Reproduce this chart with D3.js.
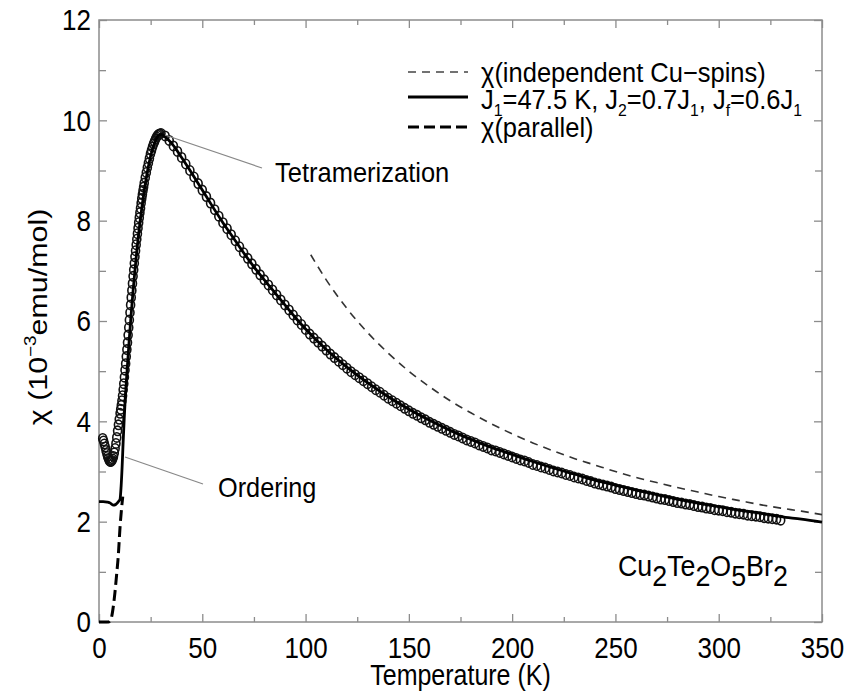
<!DOCTYPE html>
<html>
<head>
<meta charset="utf-8">
<script src="https://cdn.jsdelivr.net/npm/d3@7"></script>
<style>
  body { margin: 0; background: #fff; }
  svg { display: block; font-family: "Liberation Sans", Arial, Helvetica, sans-serif; }
</style>
</head>
<body>
<svg id="chart" width="847" height="693"></svg>
<script>
// Measured susceptibility (open symbols), T in K, chi in 10^-3 emu/mol
const measuredT = [
  1.8, 2.2, 2.6, 3.0, 3.4, 3.8, 4.2, 4.6, 5.0, 5.4, 5.8, 6.2, 6.6, 7.0, 7.4, 7.8, 8.2, 8.6, 9.0, 9.4, 9.8,
  10.2, 10.5, 10.8, 11.1, 11.4, 11.7, 12.0, 12.3, 12.6, 12.9, 13.2, 13.5, 13.8, 14.1, 14.4, 14.7, 15.0, 15.3,
  15.6, 15.9, 16.2, 16.5, 16.8, 17.1, 17.4, 17.7, 18.0, 18.3, 18.6, 18.9, 19.2, 19.5, 19.8, 20.1, 20.4, 20.7,
  21.0, 21.3, 21.6, 21.9,
  22.4, 22.9, 23.4, 23.9, 24.4, 24.9, 25.4, 25.9, 26.4, 26.9, 27.4, 27.9, 28.4, 28.9, 29.4, 30,
  32, 34, 36, 38, 40, 42, 44, 46, 48, 50, 52, 54, 56, 58, 60, 62, 64, 66, 68, 70,
  72, 74, 76, 78, 80, 82, 84, 86, 88, 90, 92, 94, 96, 98, 100, 102, 104, 106, 108, 110,
  112, 114, 116, 118, 120, 122, 124, 126, 128, 130, 132, 134, 136, 138, 140, 142, 144, 146, 148, 150,
  152, 154, 156, 158, 160, 162, 164, 166, 168, 170, 172, 174, 176, 178, 180, 182, 184, 186, 188, 190,
  192, 194, 196, 198, 200, 202, 204, 206, 208, 210, 212, 214, 216, 218, 220, 222, 224, 226, 228, 230,
  232, 234, 236, 238, 240, 242, 244, 246, 248, 250, 252, 254, 256, 258, 260, 262, 264, 266, 268, 270,
  272, 274, 276, 278, 280, 282, 284, 286, 288, 290, 292, 294, 296, 298, 300, 302, 304, 306, 308, 310,
  312, 314, 316, 318, 320, 322, 324, 326, 328, 330
];
const measuredChi = [
  3.66, 3.61, 3.55, 3.49, 3.42, 3.36, 3.30, 3.26, 3.22, 3.20, 3.20, 3.22, 3.25, 3.30, 3.37, 3.46, 3.56, 3.68, 3.81, 3.93, 4.04,
  4.16, 4.24, 4.32, 4.41, 4.51, 4.63, 4.75, 4.88, 5.02, 5.15, 5.29, 5.43, 5.57, 5.72, 5.87, 6.02, 6.17, 6.32,
  6.47, 6.61, 6.75, 6.89, 7.02, 7.15, 7.28, 7.40, 7.52, 7.63, 7.74, 7.85, 7.96, 8.06, 8.16, 8.25, 8.35, 8.44,
  8.52, 8.60, 8.67, 8.75,
  8.86, 8.96, 9.06, 9.15, 9.24, 9.33, 9.40, 9.47, 9.53, 9.58, 9.63, 9.67, 9.70, 9.72, 9.73, 9.74,
  9.69, 9.60, 9.49, 9.38, 9.26, 9.13, 9.00, 8.87, 8.74, 8.61, 8.48, 8.35, 8.22, 8.09, 7.96, 7.84, 7.72, 7.60, 7.48, 7.36,
  7.25, 7.14, 7.03, 6.92, 6.82, 6.72, 6.62, 6.52, 6.42, 6.32, 6.22, 6.12, 6.02, 5.93, 5.83, 5.74, 5.66, 5.58, 5.50, 5.42,
  5.34, 5.27, 5.20, 5.13, 5.06, 4.99, 4.93, 4.87, 4.81, 4.75, 4.69, 4.63, 4.58, 4.52, 4.46, 4.41, 4.36, 4.31, 4.26, 4.21,
  4.16, 4.12, 4.07, 4.03, 3.98, 3.94, 3.90, 3.86, 3.82, 3.78, 3.74, 3.71, 3.67, 3.63, 3.60, 3.57, 3.53, 3.50, 3.47, 3.43,
  3.41, 3.38, 3.35, 3.32, 3.29, 3.26, 3.23, 3.21, 3.18, 3.14, 3.12, 3.09, 3.07, 3.04, 3.01, 2.99, 2.97, 2.94, 2.92, 2.89,
  2.87, 2.85, 2.82, 2.80, 2.77, 2.75, 2.73, 2.71, 2.69, 2.66, 2.64, 2.62, 2.60, 2.58, 2.56, 2.54, 2.53, 2.51, 2.49, 2.47,
  2.45, 2.44, 2.42, 2.40, 2.38, 2.37, 2.35, 2.34, 2.32, 2.30, 2.29, 2.27, 2.26, 2.24, 2.23, 2.22, 2.20, 2.19, 2.17, 2.16,
  2.15, 2.13, 2.12, 2.11, 2.10, 2.08, 2.07, 2.06, 2.05, 2.03
];

// Model curve J1=47.5 K, J2=0.7J1, Jf=0.6J1
const fitT = [0, 2, 4, 5.5, 6.8, 8, 9, 9.8, 10.2, 10.7, 11.2, 11.7, 12.2, 12.7, 13.5, 14.5, 15.5, 16.5, 17.5, 18.5,
  20, 22, 24, 26, 28, 30, 32, 35, 40, 45, 50, 55, 60, 65, 70, 75, 80, 85, 90, 95, 100,
  110, 120, 130, 140, 150, 160, 170, 180, 190, 200, 210, 220, 230, 240, 250, 260, 270, 280, 290, 300,
  310, 320, 330, 340, 350];
const fitChi = [2.40, 2.40, 2.39, 2.37, 2.33, 2.34, 2.38, 2.42, 2.45, 2.70, 3.10, 3.60, 4.05, 4.45, 4.95, 5.55, 6.10, 6.60, 7.05, 7.47,
  8.02, 8.62, 9.10, 9.44, 9.65, 9.72, 9.67, 9.55, 9.26, 8.94, 8.61, 8.28, 7.96, 7.66, 7.36, 7.08, 6.82, 6.57, 6.32, 6.07, 5.84,
  5.43, 5.08, 4.77, 4.49, 4.24, 4.02, 3.82, 3.64, 3.48, 3.34, 3.20, 3.07, 2.95, 2.83, 2.73, 2.63, 2.54, 2.45, 2.37, 2.30,
  2.23, 2.17, 2.10, 2.05, 1.99];

// Independent Cu spins
const curieT = [102.5, 110, 120, 130, 140, 150, 160, 170, 180, 190, 200, 210, 220, 230, 240, 250,
  260, 270, 280, 290, 300, 310, 320, 330, 340, 350];
const curieChi = [7.32, 6.82, 6.25, 5.77, 5.36, 5.00, 4.69, 4.41, 4.17, 3.95, 3.75, 3.57, 3.41, 3.26, 3.13, 3.00,
  2.88, 2.78, 2.68, 2.59, 2.50, 2.42, 2.34, 2.27, 2.21, 2.14];

// Parallel susceptibility below ordering
const parallelT = [0, 4.5, 5.5, 6.1, 7.0, 7.7, 8.5, 9.3, 10.2, 11.0, 11.5];
const parallelChi = [0, 0, 0.03, 0.10, 0.33, 0.58, 0.93, 1.30, 1.90, 2.30, 2.50];

const xMajor = [0, 50, 100, 150, 200, 250, 300, 350];
const xMinor = [25, 75, 125, 175, 225, 275, 325];
const yMajor = [0, 2, 4, 6, 8, 10, 12];
const yMinor = [1, 3, 5, 7, 9, 11];

const svg = d3.select("#chart");
const X0 = 99, X1 = 822, Y0 = 622, Y1 = 20;
const x = d3.scaleLinear().domain([0, 350]).range([X0, X1]);
const y = d3.scaleLinear().domain([0, 12]).range([Y0, Y1]);
const axisColor = "#8c8c8c";
const FONT = '"Liberation Sans", Arial, Helvetica, sans-serif';
const TALL = 1.17;   // lettering is drawn slightly tall and narrow

function styleAxis(g) {
  g.select(".domain").remove();
  g.selectAll(".tick line").attr("stroke", axisColor).attr("stroke-width", 1.3);
  g.selectAll(".tick text").attr("fill", "#000").attr("font-size", 26).attr("font-family", FONT)
    .attr("transform", `scale(1,${TALL})`);
}

// axes with inward ticks on all four sides
svg.append("g").attr("transform", `translate(0,${Y0})`)
  .call(d3.axisBottom(x).tickValues(xMajor).tickSize(-8).tickPadding(12).tickFormat(d3.format("d"))).call(styleAxis);
svg.append("g").attr("transform", `translate(0,${Y0})`)
  .call(d3.axisBottom(x).tickValues(xMinor).tickSize(-5).tickFormat("")).call(styleAxis);
svg.append("g").attr("transform", `translate(0,${Y1})`)
  .call(d3.axisTop(x).tickValues(xMajor).tickSize(-8).tickFormat("")).call(styleAxis);
svg.append("g").attr("transform", `translate(0,${Y1})`)
  .call(d3.axisTop(x).tickValues(xMinor).tickSize(-5).tickFormat("")).call(styleAxis);
svg.append("g").attr("transform", `translate(${X0},0)`)
  .call(d3.axisLeft(y).tickValues(yMajor).tickSize(-8).tickPadding(8).tickFormat(d3.format("d"))).call(styleAxis);
svg.append("g").attr("transform", `translate(${X0},0)`)
  .call(d3.axisLeft(y).tickValues(yMinor).tickSize(-7).tickFormat("")).call(styleAxis);
svg.append("g").attr("transform", `translate(${X1},0)`)
  .call(d3.axisRight(y).tickValues(yMajor).tickSize(-8).tickFormat("")).call(styleAxis);
svg.append("g").attr("transform", `translate(${X1},0)`)
  .call(d3.axisRight(y).tickValues(yMinor).tickSize(-7).tickFormat("")).call(styleAxis);

svg.append("rect").attr("x", X0).attr("y", Y1).attr("width", X1 - X0).attr("height", Y0 - Y1)
  .attr("fill", "none").attr("stroke", axisColor).attr("stroke-width", 1.5);

// data layers
const pts = (tx, ty) => tx.map((t, i) => [t, ty[i]]);
const line = d3.line().x(d => x(d[0])).y(d => y(d[1])).curve(d3.curveMonotoneX);

svg.append("g").selectAll("ellipse").data(pts(measuredT, measuredChi)).join("ellipse")
  .attr("cx", d => x(d[0])).attr("cy", d => y(d[1]))
  .attr("rx", 4).attr("ry", 4.7)
  .attr("fill", "none").attr("stroke", "#111").attr("stroke-width", 1.6);

svg.append("path").datum(pts(curieT, curieChi)).attr("d", line)
  .attr("fill", "none").attr("stroke", "#333").attr("stroke-width", 1.6).attr("stroke-dasharray", "8,6");

svg.append("path").datum(pts(fitT, fitChi)).attr("d", line)
  .attr("fill", "none").attr("stroke", "#000").attr("stroke-width", 2.8);

svg.append("path").datum(pts(parallelT, parallelChi)).attr("d", line)
  .attr("fill", "none").attr("stroke", "#000").attr("stroke-width", 3).attr("stroke-dasharray", "11,5");

// rich text helper: parts are [string, mode] with mode "sub" / "sup" / undefined
function rich(g, px, py, parts, size, opts = {}) {
  const t = g.append("text").attr("x", 0).attr("y", 0).attr("font-size", size)
    .attr("font-family", FONT).attr("fill", "#000");
  if (opts.anchor) t.attr("text-anchor", opts.anchor);
  const rot = opts.rotate ? ` rotate(${opts.rotate})` : "";
  const sc = opts.rotate ? `scale(${TALL},1)` : `scale(1,${opts.tall || TALL})`;
  t.attr("transform", `translate(${px},${py})${rot} ${sc}`);
  let shift = 0;
  parts.forEach(([s, mode]) => {
    const k = mode ? (opts.scriptScale || 0.62) : 1;
    const target = mode === "sub" ? (opts.subShift || size * 0.28) : mode === "sup" ? -size * 0.42 : 0;
    t.append("tspan").attr("dy", target - shift).attr("font-size", size * k).text(s);
    shift = target;
  });
  return t;
}

// legend
const legend = svg.append("g");
const legendRows = [
  { y: 72, stroke: "#444", width: 1.6, dash: "8,6" },
  { y: 97, stroke: "#000", width: 3, dash: null },
  { y: 127, stroke: "#000", width: 3, dash: "11,5" }
];
legendRows.forEach(r => {
  const l = legend.append("line").attr("x1", 408).attr("x2", 468).attr("y1", r.y).attr("y2", r.y)
    .attr("stroke", r.stroke).attr("stroke-width", r.width);
  if (r.dash) l.attr("stroke-dasharray", r.dash);
});
rich(legend, 481, 82, [["χ(independent Cu−spins)"]], 25.5, { tall: 1.1 });
rich(legend, 481, 109, [["J"], ["1", "sub"], ["=47.5 K, J"], ["2", "sub"], ["=0.7J"], ["1", "sub"],
  [", J"], ["f", "sub"], ["=0.6J"], ["1", "sub"]], 25.5, { subShift: 6, tall: 1.1 });
rich(legend, 481, 137, [["χ(parallel)"]], 25.5, { tall: 1.1 });

// annotations
const ann = svg.append("g");
ann.append("line").attr("x1", 165).attr("y1", 135).attr("x2", 262).attr("y2", 168)
  .attr("stroke", "#888").attr("stroke-width", 1.2);
ann.append("line").attr("x1", 125).attr("y1", 457).attr("x2", 203).attr("y2", 484)
  .attr("stroke", "#888").attr("stroke-width", 1.2);
rich(ann, 275, 182, [["Tetramerization"]], 25.5, { tall: 1.1 });
rich(ann, 218, 497, [["Ordering"]], 25.3, { tall: 1.1 });

// compound label
rich(svg, 618, 576, [["Cu"], ["2", "sub"], ["Te"], ["2", "sub"], ["O"], ["5", "sub"], ["Br"], ["2", "sub"]], 26.8,
  { scriptScale: 1, subShift: 9, tall: 1.1 });

// axis titles
rich(svg, (X0 + X1) / 2, 685, [["Temperature (K)"]], 25, { anchor: "middle" });
rich(svg, 47, (Y0 + Y1) / 2 - 4, [["χ (10"], ["−3", "sup"], ["emu/mol)"]], 26,
  { anchor: "middle", rotate: -90 });
</script>
</body>
</html>
